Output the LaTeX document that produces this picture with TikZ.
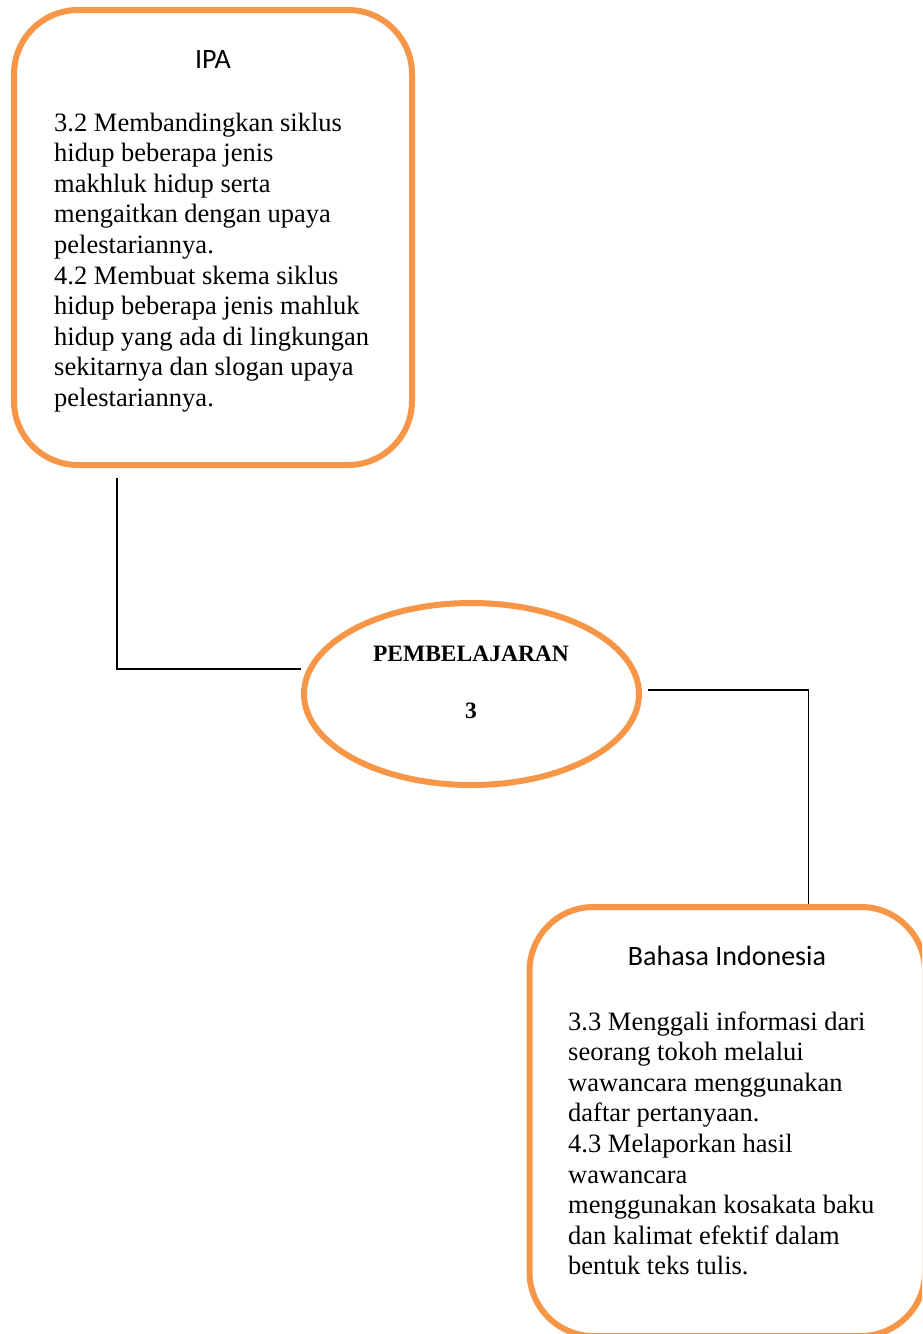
\documentclass[tikz,border=0pt]{standalone}
\usepackage{fontspec}
\setmainfont{Liberation Serif}
\newfontfamily\calibri{Carlito}
\usetikzlibrary{shapes.geometric}
\definecolor{boxorange}{RGB}{247,150,70}
\begin{document}
\begin{tikzpicture}[x=1pt,y=-1pt,
  orangebox/.style={draw=boxorange, line width=6pt, rectangle, rounded corners=64pt, inner sep=0pt},
  orangeellipse/.style={draw=boxorange, line width=6pt, ellipse, inner sep=0pt},
  titletext/.style={font=\calibri\fontsize{28}{30}\selectfont, anchor=base, inner sep=0pt},
  bodytext/.style={font=\fontsize{26.5}{30.6}\selectfont, align=left, anchor=base west, inner sep=0pt},
  centertext/.style={font=\fontsize{23.5}{26}\selectfont\bfseries, anchor=base, inner sep=0pt},
  link/.style={draw=black, line width=1.5pt}]
\path[use as bounding box, clip] (0,0) rectangle (922,1334);
% boxes
\node[orangebox, minimum width=398pt, minimum height=455pt] (ipa) at (213,237.5) {};
\node[orangeellipse, minimum width=335pt, minimum height=182pt] (pem) at (471.5,694) {};
\node[orangebox, minimum width=395.5pt, minimum height=429pt] (bi) at (727.25,1121.5) {};
% texts (base anchor = baseline of the last line)
\node[titletext] (ipaT) at (213,68) {IPA};
\node[bodytext] (ipaB) at (54,406.4) {3.2 Membandingkan siklus\\
hidup beberapa jenis\\
makhluk hidup serta\\
mengaitkan dengan upaya\\
pelestariannya.\\
4.2 Membuat skema siklus\\
hidup beberapa jenis mahluk\\
hidup yang ada di lingkungan\\
sekitarnya dan slogan upaya\\
pelestariannya.};
\node[centertext] (pemA) at (471,661) {PEMBELAJARAN};
\node[centertext] (pemB) at (471,718) {3};
\node[titletext] (biT) at (727,965) {Bahasa Indonesia};
\node[bodytext] (biB) at (568,1274.8) {3.3 Menggali informasi dari\\
seorang tokoh melalui\\
wawancara menggunakan\\
daftar pertanyaan.\\
4.3 Melaporkan hasil\\
wawancara\\
menggunakan kosakata baku\\
dan kalimat efektif dalam\\
bentuk teks tulis.};
% connectors
\coordinate (c1) at (117,478);
\draw[link] (c1) |- ([yshift=25pt]pem.west);
\draw[link] ([xshift=6pt,yshift=4pt]pem.east) -| ([xshift=81pt]bi.north);
\end{tikzpicture}
\end{document}
